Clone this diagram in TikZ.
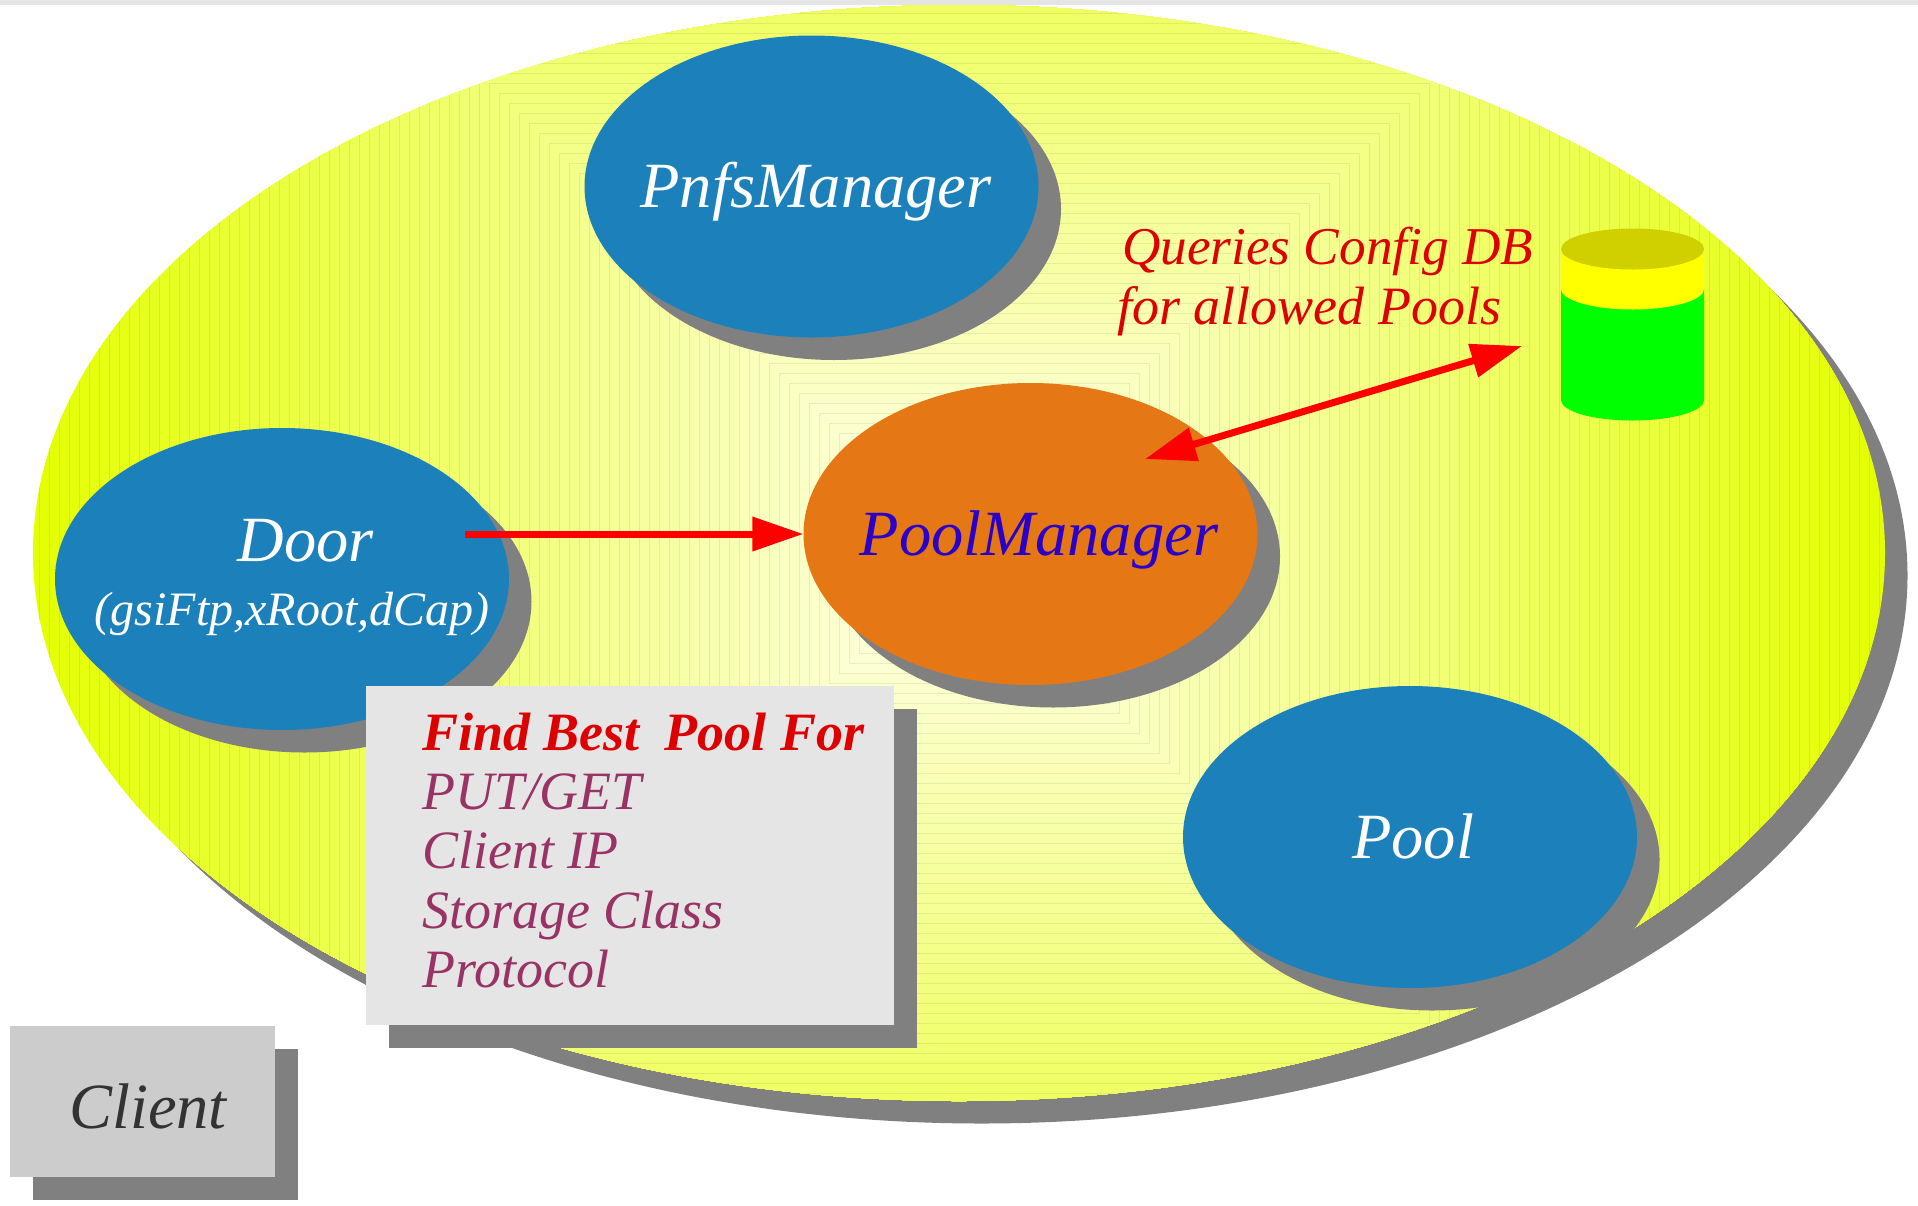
\documentclass[tikz,border=0pt]{standalone}
\usepackage{fontspec}
\setmainfont{Liberation Serif}
\usetikzlibrary{shapes.geometric,shadows,arrows.meta}

\definecolor{cellblue}{HTML}{1C80BB}
\definecolor{poolorange}{HTML}{E57814}
\definecolor{shadowgray}{HTML}{808080}
\definecolor{bigedge}{HTML}{E4FF00}
\definecolor{bigcentre}{HTML}{FFFFF0}
\definecolor{notered}{HTML}{DD0000}
\definecolor{notepurple}{HTML}{993366}
\definecolor{mgrtext}{HTML}{2A00C8}
\definecolor{cyltop}{HTML}{D0CF00}
\definecolor{cylband}{HTML}{FFFF00}
\definecolor{cylbody}{HTML}{00FF00}
\definecolor{arrowred}{HTML}{FF0000}

\tikzset{
  dropgray/.style={drop shadow={shadow xshift=22.5pt,shadow yshift=-22.5pt,fill=shadowgray,opacity=1}},
  cell/.style={ellipse,fill=#1,minimum width=454pt,minimum height=302pt,inner sep=0pt,dropgray},
  bigtext/.style={anchor=base,inner sep=0pt,font=\fontsize{64.5}{77}\selectfont\itshape},
  notetext/.style={inner sep=0pt,align=left,font=\fontsize{54}{59.4}\selectfont\itshape},
  flow/.style={line width=7pt,arrowred,-{Triangle[length=51pt,width=33pt]}},
  bothflow/.style={line width=7pt,arrowred,{Triangle[length=51pt,width=33pt]}-{Triangle[length=51pt,width=33pt]}},
}

\begin{document}
\begin{tikzpicture}[x=1pt,y=-1pt]
  \useasboundingbox (0,0) rectangle (1918,1205);

  % Strip along the top
  \fill[black!10] (0,0) rectangle (1918,5);

  % Large ellipse, shadow first
  \fill[shadowgray] (981.5,575.5) ellipse [x radius=926pt,y radius=548pt];
  \begin{scope}
    \clip (959,553) ellipse [x radius=926pt,y radius=548pt];
    % Concentric squares give the gradient
    \foreach \r [evaluate=\r as \s using \r*10, evaluate=\r as \p using \r/93*100] in {93,92,...,1}
      \filldraw[fill=bigedge!\p!bigcentre,draw=bigedge!\p!bigcentre!93!black,line width=0.5pt] (959,553) +(-\s,-\s) rectangle +(\s,\s);
  \end{scope}

  % Cells
  \node[cell=cellblue] (pnfs) at (811.5,186.5) {};
  \node[cell=poolorange] (poolmgr) at (1030.5,534) {};
  \node[cell=cellblue] (door) at (282,579) {};
  \node[cell=cellblue] (pool) at (1410,837) {};

  \node[bigtext,white] (pnfstext) at (816,207.5) {PnfsManager};
  \node[bigtext,mgrtext] (poolmgrtext) at (1039,555.5) {PoolManager};
  \node[bigtext,white] (doortext) at (306,561.5) {Door};
  \node[bigtext,white,font=\fontsize{48}{55}\selectfont\itshape] (doorsub) at (292,625) {(gsiFtp,xRoot,dCap)};
  \node[bigtext,white] (pooltext) at (1413,858.5) {Pool};

  % Database cylinder
  \fill[cylbody] (1561,289) -- (1561,400) arc [start angle=180,end angle=360,x radius=71.5pt,y radius=20.5pt] -- (1704,289) -- cycle;
  \fill[cylband] (1561,249) -- (1561,289) arc [start angle=180,end angle=360,x radius=71.5pt,y radius=20.5pt] -- (1704,249) -- cycle;
  \fill[cyltop] (1632.5,249) ellipse [x radius=71.5pt,y radius=20.5pt];

  % Note next to the cylinder
  \node[notetext,anchor=base west,text=notered] (confignote) at (1122,324)
    {{\fontsize{53.2}{59.4}\selectfont Queries Config DB}\\\hspace*{-5pt}for allowed Pools};

  % Arrows
  \coordinate (doorout) at (465,534);
  \coordinate (dbtip) at (1522,346);
  \coordinate (mgrtip) at (1145,459);
  \draw[flow] (doorout) -- (poolmgr.west);
  \draw[bothflow] (mgrtip) -- (dbtip);

  % Boxes
  \node[anchor=north west,fill=black!10,minimum width=528pt,minimum height=339pt,dropgray] (findbox) at (366,686) {};
  \node[notetext,anchor=north west,text=notepurple] (findtext) at (422,712.5)
    {{\bfseries\color{notered}Find Best\hspace{25pt}Pool For}\\PUT/GET\\Client IP\\Storage Class\\Protocol};
  \node[anchor=north west,fill=black!20,minimum width=265pt,minimum height=151pt,dropgray] (clientbox) at (10,1026) {};
  \node[bigtext,black!80] (clienttext) at (148,1128.5) {Client};
\end{tikzpicture}
\end{document}
